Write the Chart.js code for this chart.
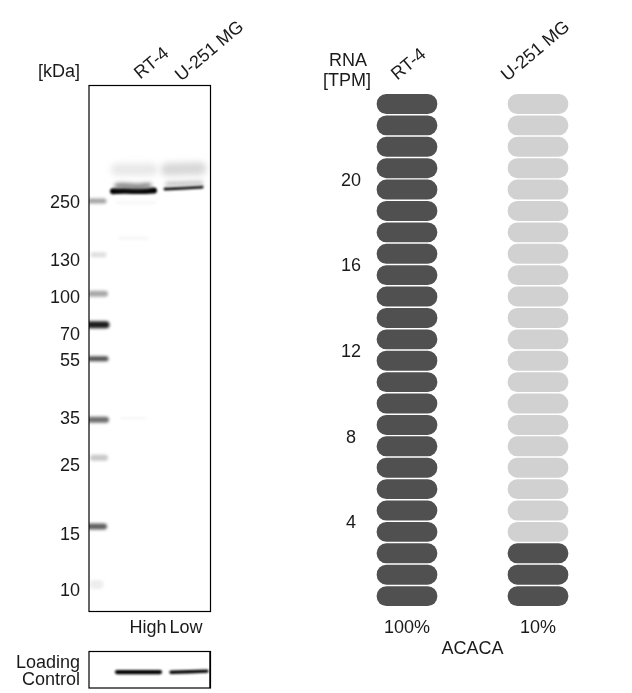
<!DOCTYPE html>
<html>
<head>
<meta charset="utf-8">
<title>ACACA</title>
<script src="https://cdn.jsdelivr.net/npm/chart.js@4"></script>
<style>
  html, body { margin:0; padding:0; background:#fff; }
  #page { position:relative; width:632px; height:693px; overflow:hidden; font-family:"Liberation Sans",Arial,sans-serif; color:#1a1a1a; }
  #page canvas { position:absolute; }
  .note { position:absolute; font-size:18px; line-height:20px; white-space:nowrap; }
</style>
</head>
<body>
<div id="page">
  <canvas id="blot" width="250" height="650" style="left:0;top:0"></canvas>
  <canvas id="loading" width="250" height="43" style="left:0;top:650px"></canvas>
  <canvas id="rna" width="332" height="693" style="left:300px;top:0"></canvas>
  <div class="note" style="right:552px;top:61px">[kDa]</div>
  <div class="note" style="right:552px;top:652px">Loading</div>
  <div class="note" style="right:552px;top:669px">Control</div>
  <div class="note" style="left:329px;top:50px">RNA</div>
  <div class="note" style="left:323px;top:70px">[TPM]</div>
</div>
<script>
// lanes
const cellLines = ["RT-4", "U-251 MG"];
const loadLabels = ["High", "Low"];
const loadLabelPos = [59, 97];

// ladder, positions in px down the gel
const kdaLabels = ["250", "130", "100", "70", "55", "35", "25", "15", "10"];
const kdaLabelPos = [117.5, 175.5, 212.5, 249.5, 275.5, 333.5, 380.5, 449.5, 506.5];
const markerPos = [115.5, 169.5, 208.5, 239.5, 273.5, 334.5, 372.5, 441.5, 499.5];
const markerStart = [1, 4, 2, 1, 1, 1, 4, 1, 5];
const markerEnd = [15, 15, 16, 17, 17, 17, 16, 15, 10];

// sample bands: lane position and gel position
const rtMainX = [24, 36, 50, 65];
const rtMainY = [105.8, 105.4, 105.7, 105.2];
const rtUpperX = [28, 33, 50, 60];
const rtUpperY = [100.5, 100, 101, 100];
const rtSmearX = [28, 63];
const rtSmearY = [84, 84];
const rtFaintX = [28, 66, 31, 58, 32, 56];
const rtFaintY = [117, 117, 153, 153, 333, 333];
const uMainX = [76, 96, 113];
const uMainY = [103.6, 102.6, 101.6];
const uUpperX = [78, 112];
const uUpperY = [98.5, 97.5];
const uSmearX = [78, 111];
const uSmearY = [84, 83];

// loading control bands
const loadRtX = [28, 71];
const loadRtY = [20.6, 20.6];
const loadUX = [82, 118];
const loadUY = [20.8, 19.6];

// RNA panel
const rnaTpm = [24, 3];
const rnaScale = 24;
const rnaPercent = ["100%", "10%"];
const rnaTicks = [4, 8, 12, 16, 20];
const geneName = "ACACA";

// styles
const markerShade = ["#a4a4a4", "#dedede", "#a8a8a8", "#1c1c1c", "#505050", "#6e6e6e", "#c8c8c8", "#5e5e5e", "#ededed"];
const markerWidth = [5, 5, 6, 7, 5, 6, 6, 6, 9];
const textColor = "#1a1a1a";
const font18 = { family: "'Liberation Sans', Arial, sans-serif", size: 18 };
Chart.defaults.devicePixelRatio = 1;
Chart.defaults.animation = false;

// soft edges for the gel bands
const blurPlugin = {
  id: "bandBlur",
  beforeDatasetDraw(chart, args) {
    chart.ctx.save();
    chart.ctx.filter = "blur(" + (args.meta._dataset.blur || 0) + "px)";
  },
  afterDatasetDraw(chart) { chart.ctx.restore(); }
};

const framePlugin = {
  id: "frame",
  afterDatasetsDraw(chart) {
    const a = chart.chartArea, ctx = chart.ctx;
    ctx.save();
    ctx.strokeStyle = "#000";
    ctx.lineWidth = 1.2;
    ctx.strokeRect(a.left, a.top, a.right - a.left, a.bottom - a.top);
    ctx.restore();
  }
};

// slanted lane names above a panel
function slantedLabels(names, xs, ys) {
  return {
    id: "slanted",
    afterDraw(chart) {
      const ctx = chart.ctx;
      names.forEach((name, i) => {
        ctx.save();
        ctx.translate(xs[i], ys[i]);
        ctx.rotate(-40 * Math.PI / 180);
        ctx.font = "18px " + font18.family;
        ctx.fillStyle = textColor;
        ctx.textAlign = "left";
        ctx.textBaseline = "middle";
        ctx.fillText(name, 0, 0);
        ctx.restore();
      });
    }
  };
}

function band(xs, ys, color, width, blur) {
  return {
    data: xs.map((x, i) => ({ x: x, y: ys[i] })),
    borderColor: color,
    borderWidth: width,
    borderCapStyle: "round",
    tension: 0.3,
    pointRadius: 0,
    blur: blur
  };
}

const blotSets = [
  band(rtSmearX, rtSmearY, "#e8e8e8", 12, 3),
  band(uSmearX, uSmearY, "#d8d8d8", 13, 3),
  band(rtFaintX.slice(0, 2), rtFaintY.slice(0, 2), "#f6f6f6", 3, 1.5),
  band(rtFaintX.slice(2, 4), rtFaintY.slice(2, 4), "#f5f5f5", 3, 1.5),
  band(rtFaintX.slice(4, 6), rtFaintY.slice(4, 6), "#f5f5f5", 2, 1),
  band(rtUpperX, rtUpperY, "#7a7a7a", 5, 2),
  band(uUpperX, uUpperY, "#bcbcbc", 4, 2),
  band(rtMainX, rtMainY, "#000", 6, 1),
  band(uMainX, uMainY, "#000", 3, 0.9)
];
markerPos.forEach((y, i) => {
  blotSets.push(band([markerStart[i], markerEnd[i]], [y, y], markerShade[i], markerWidth[i], 1.8));
});

new Chart(document.getElementById("blot"), {
  type: "line",
  data: { datasets: blotSets },
  options: {
    responsive: false,
    layout: { padding: { top: 85.5, right: 39.5 } },
    plugins: { legend: { display: false }, tooltip: { enabled: false } },
    scales: {
      x: {
        type: "linear", min: 0, max: 121.5,
        grid: { display: false, drawTicks: false }, border: { display: false },
        afterBuildTicks: s => { s.ticks = loadLabelPos.map(v => ({ value: v })); },
        afterFit: s => { s.height = 38.5; },
        ticks: {
          autoSkip: false, maxRotation: 0, padding: 6, font: font18, color: textColor,
          callback: (v, i) => loadLabels[i]
        }
      },
      y: {
        type: "linear", min: 0, max: 526.5, reverse: true,
        grid: { display: false, drawTicks: false }, border: { display: false },
        afterBuildTicks: s => { s.ticks = kdaLabelPos.map(v => ({ value: v })); },
        afterFit: s => { s.width = 89; },
        ticks: {
          autoSkip: false, padding: 9, font: font18, color: textColor,
          callback: (v, i) => kdaLabels[i]
        }
      }
    }
  },
  plugins: [blurPlugin, framePlugin, slantedLabels(cellLines, [137, 178], [76, 78])]
});

new Chart(document.getElementById("loading"), {
  type: "line",
  data: {
    datasets: [
      band(loadRtX, loadRtY, "#000", 4.2, 0.9),
      band(loadUX, loadUY, "#000", 3.4, 0.9),
      band([121.5, 121.5], [0, 36.5], "#000", 2.4, 0)
    ]
  },
  options: {
    responsive: false,
    layout: { padding: { top: 1.5, right: 39.5, bottom: 5 } },
    plugins: { legend: { display: false }, tooltip: { enabled: false } },
    scales: {
      x: { type: "linear", min: 0, max: 121.5, display: false },
      y: {
        type: "linear", min: 0, max: 36.5, reverse: true,
        grid: { display: false, drawTicks: false }, border: { display: false },
        ticks: { display: false },
        afterFit: s => { s.width = 89; }
      }
    }
  },
  plugins: [blurPlugin, framePlugin]
});

// one floating bar per pill, filled up to the TPM value of each lane
const pillSets = [];
for (let i = 0; i < rnaScale; i++) {
  pillSets.push({
    data: cellLines.map(() => [i + 0.05, i + 0.95]),
    backgroundColor: rnaTpm.map(v => (i < v ? "#505050" : "#d1d1d1")),
    barThickness: 60,
    borderRadius: 10,
    borderSkipped: false,
    grouped: false,
    clip: false
  });
}

new Chart(document.getElementById("rna"), {
  type: "bar",
  data: { labels: cellLines, datasets: pillSets },
  options: {
    responsive: false,
    layout: { padding: { top: 93.3, right: 94, bottom: 33 } },
    plugins: { legend: { display: false }, tooltip: { enabled: false } },
    scales: {
      x: {
        offset: false,
        grid: { display: false, drawTicks: false }, border: { display: false },
        afterFit: s => { s.height = 53.2; },
        ticks: {
          maxRotation: 0, padding: 10, font: font18, color: textColor,
          callback: (v, i) => rnaPercent[i]
        },
        title: { display: true, text: geneName, font: font18, color: textColor, padding: { top: 4, bottom: 0 } }
      },
      y: {
        min: 0, max: rnaScale,
        grid: { display: false, drawTicks: false }, border: { display: false },
        afterBuildTicks: s => { s.ticks = rnaTicks.map(v => ({ value: v })); },
        afterFit: s => { s.width = 107; },
        ticks: { autoSkip: false, crossAlign: "center", padding: 46, labelOffset: 2, font: font18, color: textColor }
      }
    }
  },
  plugins: [slantedLabels(cellLines, [94, 204], [77, 78])]
});
</script>
</body>
</html>
